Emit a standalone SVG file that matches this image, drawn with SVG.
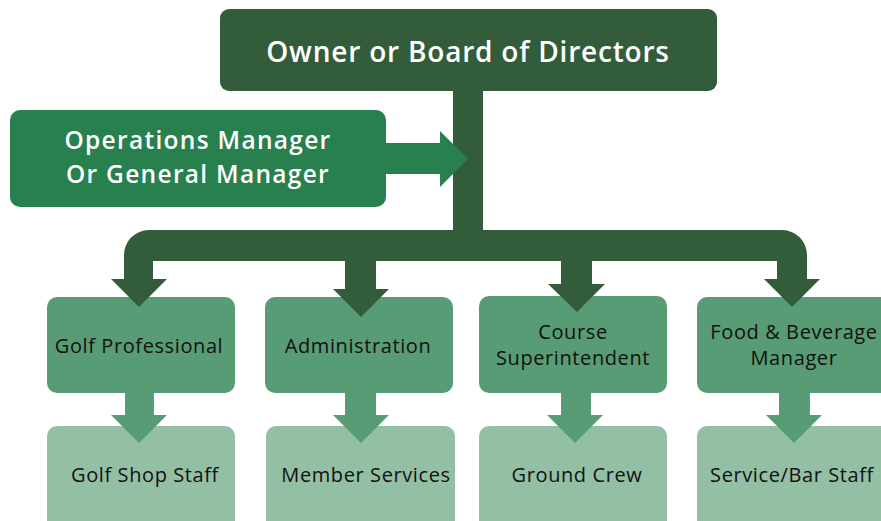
<svg xmlns="http://www.w3.org/2000/svg" width="881" height="521" viewBox="0 0 881 521">
<style>
.t{font-family:"Open Sans","Liberation Sans",sans-serif;text-anchor:middle}
.w{fill:#ffffff;font-weight:600}
.k{fill:#111111;font-size:20px;letter-spacing:0.6px}
.top{fill:#335c3a}
.ops{fill:#28804f}
.mid{fill:#579c74}
.bot{fill:#93bfa5}
</style>
<rect width="881" height="521" fill="#ffffff"/>
<g id="owner">
<rect class="top" x="220" y="9" width="497" height="82" rx="9"/>
<text class="t w" x="468" y="62" font-size="28" letter-spacing="0.8">Owner or Board of Directors</text>
</g>
<g id="ops-manager">
<rect class="ops" x="10" y="110" width="376" height="97" rx="10"/>
<text class="t w" x="198" y="149" font-size="24.5" letter-spacing="1.3">Operations Manager</text>
<text class="t w" x="198" y="183" font-size="24.5" letter-spacing="1.3">Or General Manager</text>
</g>
<g id="golf-professional">
<rect class="mid" x="47" y="297" width="188" height="96" rx="10"/>
<text class="t k" x="139" y="353">Golf Professional</text>
</g>
<g id="administration">
<rect class="mid" x="265" y="297" width="188" height="96" rx="10"/>
<text class="t k" x="358" y="353">Administration</text>
</g>
<g id="course-superintendent">
<rect class="mid" x="479" y="296" width="188" height="97" rx="10"/>
<text class="t k" x="573" y="339">Course</text>
<text class="t k" x="573" y="365">Superintendent</text>
</g>
<g id="food-beverage">
<rect class="mid" x="697" y="297" width="200" height="96" rx="10"/>
<text class="t k" x="794" y="339">Food &amp; Beverage</text>
<text class="t k" x="794" y="365">Manager</text>
</g>
<g id="golf-shop-staff">
<rect class="bot" x="47" y="426" width="188" height="110" rx="10"/>
<text class="t k" x="145" y="482">Golf Shop Staff</text>
</g>
<g id="member-services">
<rect class="bot" x="266" y="426" width="189" height="110" rx="10"/>
<text class="t k" x="366" y="482">Member Services</text>
</g>
<g id="ground-crew">
<rect class="bot" x="479" y="426" width="188" height="110" rx="10"/>
<text class="t k" x="577" y="482">Ground Crew</text>
</g>
<g id="service-bar-staff">
<rect class="bot" x="697" y="426" width="200" height="110" rx="10"/>
<text class="t k" x="792" y="482">Service/Bar Staff</text>
</g>
<g id="connectors">
<rect class="top" x="453" y="90" width="30" height="141"/>
<path class="top" d="M124,279 V255 A25,25 0 0 1 149,230 H782 A25,25 0 0 1 807,255 V279 H777 V261 H153 V279 Z"/>
<rect class="top" x="345" y="260" width="31" height="30"/>
<rect class="top" x="561" y="260" width="31" height="25"/>
<polygon class="top" points="111,279 167,279 139,307"/>
<polygon class="top" points="333,289 389,289 361,317"/>
<polygon class="top" points="548,284 605,284 577,312"/>
<polygon class="top" points="764,279 820,279 792,307"/>
<rect class="ops" x="385" y="143" width="56" height="31"/>
<polygon class="ops" points="440,131 468,159 440,187"/>
<rect class="mid" x="125" y="392" width="29" height="24"/>
<polygon class="mid" points="111,415 167,415 139,443"/>
<rect class="mid" x="345" y="392" width="31" height="24"/>
<polygon class="mid" points="333,415 389,415 361,443"/>
<rect class="mid" x="561" y="392" width="30" height="24"/>
<polygon class="mid" points="547,415 603,415 575,443"/>
<rect class="mid" x="779" y="392" width="31" height="24"/>
<polygon class="mid" points="766,415 822,415 794,443"/>
</g>
</svg>
